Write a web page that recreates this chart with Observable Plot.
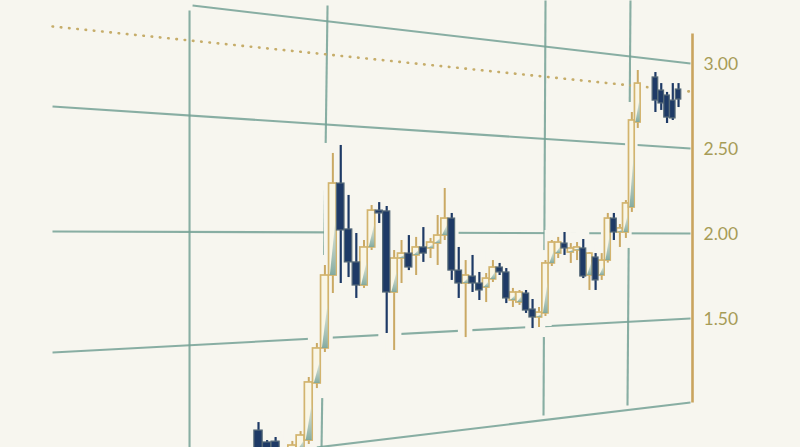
<!DOCTYPE html>
<html><head><meta charset="utf-8">
<script src="https://cdn.jsdelivr.net/npm/d3@7"></script>
<script src="https://cdn.jsdelivr.net/npm/@observablehq/plot@0.6"></script>
<style>html,body{margin:0;padding:0;background:#f7f6ef;overflow:hidden;}</style>
</head><body><div id="chart"></div>
<script>
// ---- data ----
// session number of each candle (two sessions missing before the last five)
const sessions = [0,1,2,3,4,5,6,7,8,9,10,11,12,13,14,15,16,17,18,19,
  20,21,22,23,24,25,26,27,28,29,30,31,32,33,34,35,36,37,38,39,
  40,41,42,43,44,45,46,47,48,49,50,51,52,53,54,57,58,59,60,61];
const opens = [0.835,0.765,0.770,0.671,0.706,0.718,0.776,1.112,1.318,1.747,
  2.288,2.018,1.824,1.688,1.912,2.129,2.124,1.647,1.847,1.876,
  1.865,1.912,1.906,1.935,1.982,2.082,1.776,1.700,1.741,1.700,
  1.676,1.724,1.794,1.765,1.600,1.588,1.641,1.547,1.500,1.524,
  1.818,1.876,1.935,1.882,1.894,1.906,1.747,1.853,1.747,1.835,
  2.082,2.000,2.000,2.147,2.647,2.912,2.835,2.806,2.776,2.841];
const closes = [0.688,0.718,0.706,0.718,0.747,0.806,1.118,1.318,1.747,2.288,
  2.012,1.824,1.688,1.912,2.129,2.112,1.647,1.847,1.876,1.794,
  1.912,1.876,1.941,1.982,2.082,1.776,1.700,1.747,1.700,1.659,
  1.729,1.794,1.765,1.612,1.647,1.647,1.541,1.500,1.529,1.818,
  1.941,1.941,1.906,1.906,1.912,1.741,1.876,1.718,1.835,2.082,
  2.000,2.024,2.171,2.659,2.876,2.776,2.759,2.676,2.671,2.782];
const highs = [0.882,0.776,0.794,0.729,0.771,0.829,1.147,1.347,1.806,2.465,
  2.512,2.218,1.994,1.953,2.159,2.176,2.153,1.894,1.953,1.982,
  1.971,2.029,1.965,2.100,2.259,2.112,1.912,1.835,1.865,1.765,
  1.759,1.835,1.818,1.788,1.671,1.659,1.659,1.606,1.559,1.835,
  1.953,1.971,2.000,1.935,1.941,1.959,1.882,1.876,1.876,2.112,
  2.112,2.047,2.188,2.706,2.953,2.941,2.876,2.824,2.876,2.876];
const lows = [0.647,0.682,0.659,0.647,0.688,0.706,0.753,1.082,1.294,1.641,
  1.700,1.735,1.612,1.671,1.894,2.053,1.406,1.306,1.700,1.776,
  1.747,1.824,1.847,1.806,1.953,1.718,1.612,1.382,1.647,1.600,
  1.588,1.706,1.747,1.582,1.559,1.571,1.524,1.435,1.441,1.506,
  1.800,1.847,1.865,1.818,1.835,1.729,1.659,1.659,1.718,1.820,
  1.953,1.912,1.965,2.118,2.612,2.706,2.718,2.641,2.659,2.735];
const yTicks = [1.5, 2.0, 2.5, 3.0];
// reference (dotted) level: [x1 session, y1, x2 session, y2]
const refLine = [[-20.9, 3.212, 63.1, 2.829]];
// skewed grid segments, in session / price units: [x1, y1, x2, y2]
const gridH = [[-7.34, 3.335, 63.1, 2.994], [-20.9, 2.741, 63.1, 2.494], [-20.9, 2.006, 63.1, 1.994],
  [-20.9, 1.294, 63.1, 1.494], [6.83, 0.735, 63.1, 1.0]];
const gridV = [[-7.66, 3.306, -7.66, 0.735], [8.33, 3.335, 7.58, 0.735], [39.01, 3.365, 38.7, 0.924],
  [52.77, 3.365, 52.27, 0.982]];
const axisSpan = [[63.45, 1.0, 63.45, 3.17]];

// ---- build ----
const T0 = 48; // offset for the sqrt (receding) x scale
const BG = "#f7f6ef", GRID = "#74a195", GOLD = "#caa964", NAVY = "#1e3a66";
const candles = opens.map((o, i) => ({k: sessions[i], open: o, close: closes[i], high: highs[i], low: lows[i], up: closes[i] >= o}));
const ups = candles.filter(d => d.up), downs = candles.filter(d => !d.up);
const tri = ups.flatMap(d => [
  {z: d.k, y: d.open, x1: d.k - 0.32, x2: d.k + 0.42},
  {z: d.k, y: d.open + 0.62 * (d.close - d.open), x1: d.k + 0.42, x2: d.k + 0.42}
]);
const W = 0.48;
const seg = {x1: d => d[0] + T0, y1: d => d[1], x2: d => d[2] + T0, y2: d => d[3]};

const chart = Plot.plot({
  width: 800, height: 447,
  marginTop: 0, marginBottom: 0, marginLeft: 0, marginRight: 108,
  style: {background: BG, fontFamily: "Lato, sans-serif", overflow: "visible"},
  x: {type: "sqrt", domain: [T0 - 25.24, T0 + 63.45], axis: null},
  y: {domain: [0.7353, 3.3647], axis: null},
  marks: [
    Plot.link(gridH.concat(gridV), {...seg, stroke: GRID, strokeWidth: 2.1, strokeOpacity: 0.85, clip: true}),
    Plot.link(refLine, {...seg, stroke: "#c6ad6a", strokeWidth: 2.6, strokeDasharray: "0.5,7.8", strokeLinecap: "round", clip: true}),
    // halos that break the grid around each candle
    Plot.rect(candles, {x1: d => d.k - 1.05 + T0, x2: d => d.k + 1.05 + T0, y1: "low", y2: "high",
      fill: BG, insetTop: -10, insetBottom: -10, clip: true}),
    Plot.ruleX(ups, {x: d => d.k + T0, y1: "low", y2: "high", stroke: GOLD, strokeWidth: 2, clip: true}),
    Plot.ruleX(downs, {x: d => d.k + T0, y1: "low", y2: "high", stroke: NAVY, strokeWidth: 2.2, clip: true}),
    Plot.rect(ups, {x1: d => d.k - W + T0, x2: d => d.k + W + T0, y1: "open", y2: "close",
      fill: "#f9f6e6", stroke: "#d2b46e", strokeWidth: 1.7, clip: true}),
    Plot.areaX(tri, {y: "y", x1: d => d.x1 + T0, x2: d => d.x2 + T0, z: "z", fill: "url(#triGrad)", clip: true}),
    Plot.rect(downs, {x1: d => d.k - W + T0, x2: d => d.k + W + T0, y1: "open", y2: "close",
      fill: NAVY, stroke: "#566a78", strokeWidth: 1.2, clip: true}),
    Plot.link(axisSpan, {...seg, stroke: "#c9a45e", strokeWidth: 2.6}),
    Plot.text(yTicks, {x: () => T0 + 63.45, y: d => d, text: d => d.toFixed(2), textAnchor: "start",
      dx: 11, dy: 2, fill: "#a79c57", fontSize: 17.5})
  ]
});
const defs = d3.select(chart).insert("defs", ":first-child");
const g = defs.append("linearGradient").attr("id", "triGrad").attr("x1", 0).attr("y1", 1).attr("x2", 0).attr("y2", 0);
g.append("stop").attr("offset", "0%").attr("stop-color", "#7ea79d").attr("stop-opacity", 0.95);
g.append("stop").attr("offset", "100%").attr("stop-color", "#c8d8d0").attr("stop-opacity", 0.55);
document.getElementById("chart").appendChild(chart);
</script>
</body></html>
